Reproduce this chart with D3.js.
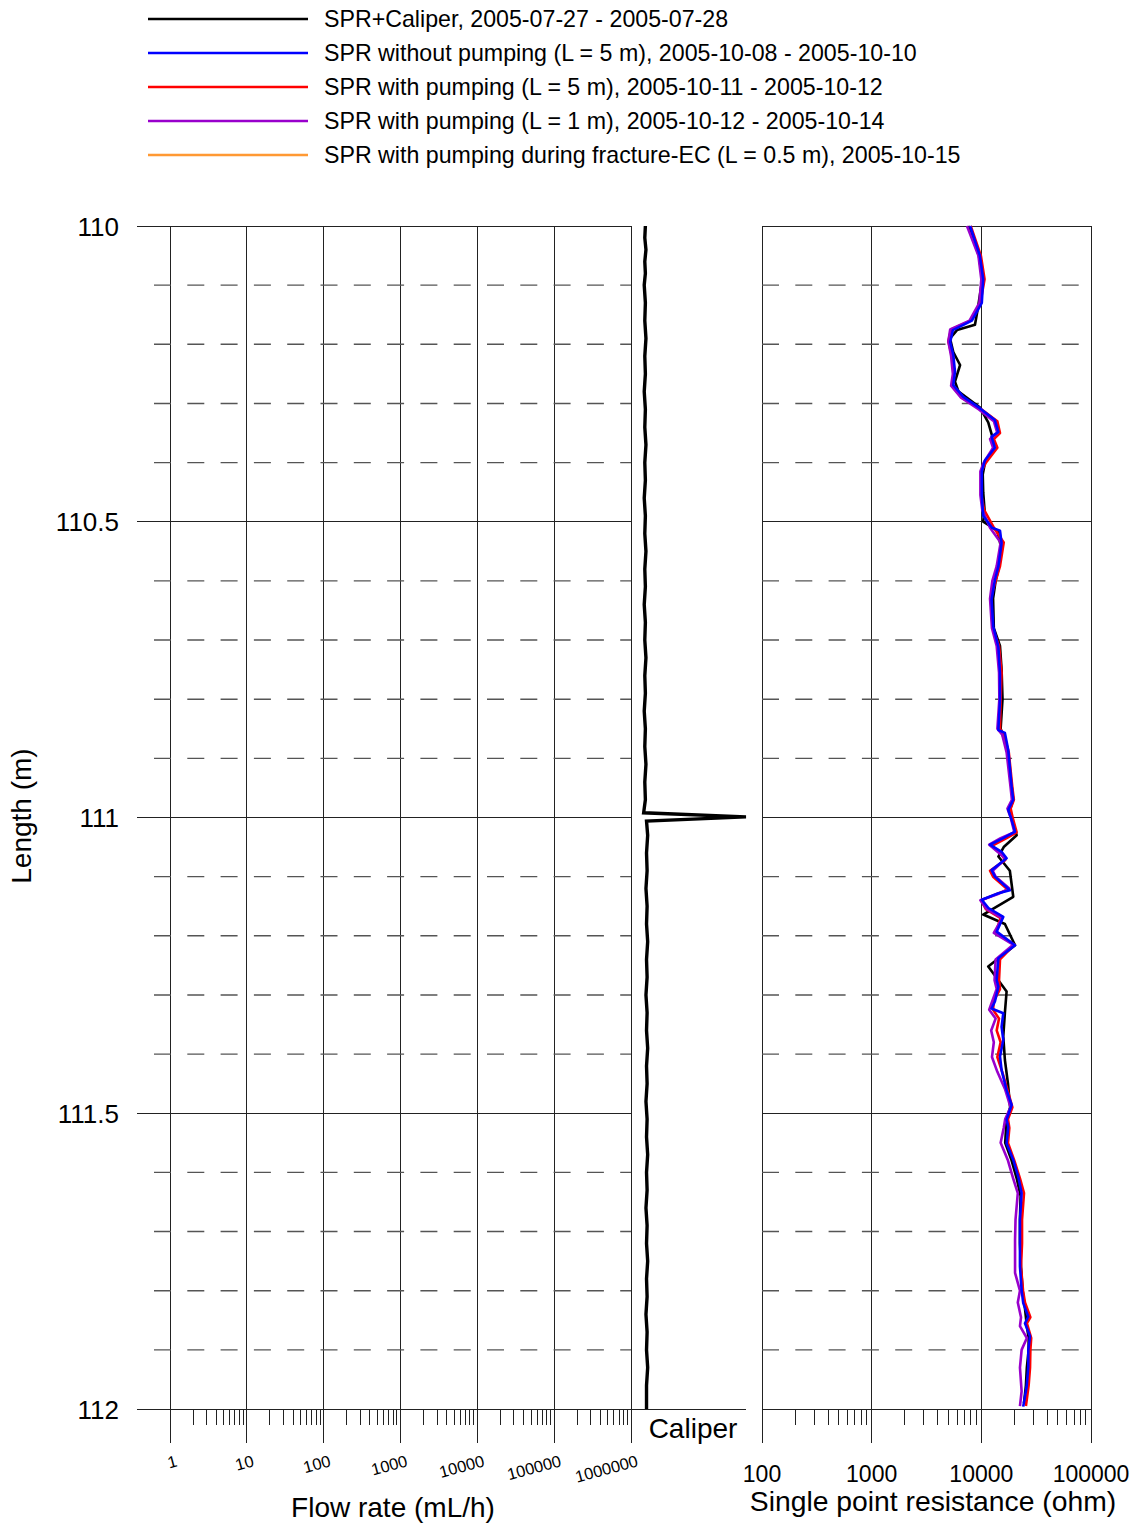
<!DOCTYPE html>
<html>
<head>
<meta charset="utf-8">
<script src="https://cdn.jsdelivr.net/npm/d3@7"></script>
<style>
  body { margin: 0; background: #fff; }
  text { font-family: Arial, "Liberation Sans", sans-serif; fill: #000; }
</style>
</head>
<body>
<svg id="chart" width="1137" height="1525"></svg>
<script>
// ---- Legend ----
const legendLabels = [
  "SPR+Caliper, 2005-07-27 - 2005-07-28",
  "SPR without pumping (L = 5 m), 2005-10-08 - 2005-10-10",
  "SPR with pumping (L = 5 m), 2005-10-11 - 2005-10-12",
  "SPR with pumping (L = 1 m), 2005-10-12 - 2005-10-14",
  "SPR with pumping during fracture-EC (L = 0.5 m), 2005-10-15"
];
const legendColors = ["#000000", "#0000ff", "#ff0000", "#9900cc", "#ff9933"];

// ---- Axes ----
const depthTicks = [110, 110.5, 111, 111.5, 112];
const depthMinor = [110.1, 110.2, 110.3, 110.4, 110.6, 110.7, 110.8, 110.9,
                    111.1, 111.2, 111.3, 111.4, 111.6, 111.7, 111.8, 111.9];
const flowTicks = [1, 10, 100, 1000, 10000, 100000, 1000000];
const flowTickLabels = ["1", "10", "100", "1000", "10000", "100000", "1000000"];
const sprTicks = [100, 1000, 10000, 100000];
const sprTickLabels = ["100", "1000", "10000", "100000"];

// ---- Caliper (mm) vs length (m) ----
const caliperDepth = [110.00, 110.02, 110.04, 110.06, 110.08, 110.10, 110.13, 110.16, 110.19, 110.22,
  110.25, 110.28, 110.31, 110.34, 110.37, 110.40, 110.43, 110.46, 110.49, 110.52,
  110.55, 110.58, 110.61, 110.64, 110.67, 110.70, 110.73, 110.76, 110.79, 110.82,
  110.85, 110.88, 110.91, 110.94, 110.97, 110.992, 110.999, 111.006, 111.03, 111.06,
  111.09, 111.12, 111.15, 111.18, 111.21, 111.24, 111.27, 111.30, 111.33, 111.36,
  111.39, 111.42, 111.45, 111.48, 111.51, 111.54, 111.57, 111.60, 111.63, 111.66,
  111.69, 111.72, 111.75, 111.78, 111.81, 111.84, 111.87, 111.90, 111.93, 111.96, 112.00];
const caliperMm = [76.25, 76.24, 76.26, 76.24, 76.25, 76.23, 76.25, 76.24, 76.26, 76.24,
  76.25, 76.23, 76.25, 76.24, 76.26, 76.24, 76.25, 76.23, 76.25, 76.24,
  76.26, 76.24, 76.25, 76.23, 76.25, 76.24, 76.26, 76.24, 76.25, 76.23,
  76.25, 76.24, 76.26, 76.24, 76.25, 76.22, 78.00, 76.27, 76.29, 76.27,
  76.28, 76.26, 76.28, 76.27, 76.29, 76.27, 76.28, 76.26, 76.28, 76.27,
  76.29, 76.27, 76.28, 76.26, 76.28, 76.27, 76.29, 76.27, 76.28, 76.26,
  76.28, 76.27, 76.29, 76.27, 76.28, 76.26, 76.28, 76.27, 76.29, 76.27, 76.27];

// ---- Single point resistance (ohm) vs length (m) ----
const sprCaliperRun = [[110.00,7600],[110.05,9500],[110.09,10200],[110.139,9300],[110.167,8750],[110.176,6000],
  [110.19,5180],[110.213,5550],[110.235,6400],[110.263,5750],[110.28,6200],[110.307,9730],[110.332,11560],
  [110.354,12500],[110.375,13000],[110.40,10800],[110.42,10300],[110.45,10400],[110.48,10700],[110.50,10400],
  [110.515,14000],[110.54,15000],[110.576,14500],[110.60,13500],[110.63,12800],[110.68,13000],[110.71,14800],
  [110.75,15300],[110.80,15600],[110.85,15000],[110.88,17000],[110.95,19000],[110.97,19500],[110.99,18000],
  [111.00,19000],[111.02,20300],[111.03,21000],[111.05,16000],[111.066,14300],[111.09,18200],[111.134,19550],
  [111.164,10400],[111.18,16400],[111.216,20300],[111.252,11560],[111.294,17000],[111.33,16400],[111.37,15850],
  [111.41,16400],[111.45,17500],[111.49,18300],[111.51,17000],[111.55,16500],[111.58,18900],[111.61,21000],
  [111.64,22800],[111.68,22500],[111.72,22500],[111.76,23000],[111.80,23800],[111.83,25000],[111.86,26000],
  [111.88,27000],[111.90,27000],[111.93,26000],[111.96,25500],[111.99,24500]];

const sprNoPump5m = [[110.00,7900],[110.05,9700],[110.09,10400],[110.13,10100],[110.16,8200],[110.176,5500],
  [110.196,5200],[110.218,5550],[110.246,5750],[110.269,5550],[110.289,6850],[110.308,9700],[110.328,13300],
  [110.348,14300],[110.356,12400],[110.375,13300],[110.396,10800],[110.415,10100],[110.455,10100],[110.49,10400],
  [110.51,12500],[110.515,14800],[110.536,15300],[110.576,14300],[110.598,13300],[110.632,12400],[110.677,12850],
  [110.711,14300],[110.756,14800],[110.801,14800],[110.852,14300],[110.857,16400],[110.886,17600],[110.948,18900],
  [110.970,19550],[110.987,17600],[111.004,18900],[111.024,20300],[111.035,15850],[111.046,12000],[111.058,15300],
  [111.069,17000],[111.089,12400],[111.100,13300],[111.123,18200],[111.128,14300],[111.139,10100],[111.153,11600],
  [111.168,15850],[111.193,13800],[111.216,20300],[111.238,14300],[111.275,13800],[111.286,14300],[111.311,13300],
  [111.323,12400],[111.331,15850],[111.354,15300],[111.376,15850],[111.404,14800],[111.427,15300],[111.461,17000],
  [111.486,18900],[111.511,17000],[111.523,17600],[111.551,17000],[111.579,19550],[111.607,21700],[111.635,23300],
  [111.680,22500],[111.720,22500],[111.759,22500],[111.799,23300],[111.821,24100],[111.844,26800],[111.855,25000],
  [111.877,27800],[111.900,26800],[111.929,26800],[111.962,25900],[111.996,24100]];

const sprPump5m = [[110.00,8000],[110.05,9900],[110.09,10700],[110.13,9800],[110.16,8000],[110.175,5300],
  [110.195,5000],[110.22,5400],[110.25,5600],[110.27,5400],[110.29,6600],[110.31,10000],[110.33,14000],
  [110.35,14800],[110.36,13000],[110.375,14000],[110.40,11000],[110.415,10000],[110.455,10000],[110.48,10600],
  [110.51,13000],[110.535,16000],[110.575,14800],[110.60,13500],[110.63,12200],[110.68,12700],[110.71,14500],
  [110.755,15300],[110.80,15000],[110.85,14800],[110.86,16000],[110.89,17800],[110.95,19200],[110.97,19800],
  [110.985,18500],[111.00,19300],[111.025,21000],[111.035,17000],[111.048,12500],[111.06,15000],[111.072,16500],
  [111.09,12000],[111.10,12800],[111.122,17500],[111.13,13500],[111.14,10000],[111.155,11000],[111.17,15000],
  [111.195,13500],[111.215,20000],[111.24,14800],[111.275,14500],[111.29,14800],[111.31,13000],[111.325,12800],
  [111.34,14500],[111.36,13800],[111.38,15000],[111.405,14000],[111.43,15500],[111.46,17300],[111.49,19200],
  [111.51,17500],[111.525,18000],[111.55,17500],[111.58,20000],[111.61,22500],[111.635,24500],[111.68,23500],
  [111.72,23500],[111.76,23000],[111.80,24000],[111.82,25000],[111.845,28000],[111.855,26000],[111.88,28500],
  [111.90,28000],[111.93,27800],[111.96,27000],[111.995,25500]];

const sprPump1m = [[110.00,7400],[110.05,9400],[110.09,10000],[110.13,9600],[110.16,7800],[110.175,5200],
  [110.195,5000],[110.22,5300],[110.25,5500],[110.27,5300],[110.29,6500],[110.31,9500],[110.33,13000],
  [110.35,14000],[110.36,12000],[110.375,12800],[110.40,10500],[110.415,9800],[110.455,9800],[110.48,10200],
  [110.51,12000],[110.535,15000],[110.575,13800],[110.60,12600],[110.63,12000],[110.68,12500],[110.71,13800],
  [110.755,14500],[110.80,14600],[110.85,14000],[110.86,15500],[110.89,17000],[110.95,18500],[110.97,19000],
  [110.985,17300],[111.00,18500],[111.025,20000],[111.035,15000],[111.046,11800],[111.06,14500],[111.07,16600],
  [111.09,12700],[111.10,13500],[111.12,18000],[111.13,14000],[111.14,9800],[111.155,11200],[111.17,15500],
  [111.195,13000],[111.215,19500],[111.24,13500],[111.275,13200],[111.29,13800],[111.31,12600],[111.325,11800],
  [111.34,13500],[111.36,12300],[111.38,13000],[111.405,12500],[111.43,14000],[111.46,16500],[111.49,18500],
  [111.51,16500],[111.525,16000],[111.55,15000],[111.58,17500],[111.61,19500],[111.635,21500],[111.68,20500],
  [111.714,20300],[111.77,20300],[111.80,22500],[111.82,21500],[111.845,23000],[111.86,22500],[111.88,26000],
  [111.90,23300],[111.93,22500],[111.97,23300],[111.995,22500]];

// ---- Drawing ----
const svg = d3.select("#chart");

const y = d3.scaleLinear().domain([110, 112]).range([226, 1409]);
const xFlow = d3.scaleLog().domain([1, 1e6]).range([170, 631]);
const xCal = d3.scaleLinear().domain([76, 78]).range([631, 746]);
const xSpr = d3.scaleLog().domain([100, 100000]).range([762, 1091]);

const gridColor = "#222";
const dashColor = "#555";
const dash = "17,16.3";

// Legend
const legend = svg.append("g");
legendLabels.forEach((label, i) => {
  const ly = 19 + i * 34;
  legend.append("line").attr("x1", 148).attr("x2", 308).attr("y1", ly).attr("y2", ly)
    .attr("stroke", legendColors[i]).attr("stroke-width", 2.5);
  legend.append("text").attr("x", 324).attr("y", ly + 8)
    .attr("font-size", 23.2).text(label);
});

// Solid grid lines (crisp), dashed minor lines (soft)
const grid = svg.append("g").attr("shape-rendering", "crispEdges");
const dashes = svg.append("g");

// Left panel: flow rate grid
depthTicks.forEach(d => {
  grid.append("line").attr("x1", 137).attr("x2", 631).attr("y1", y(d)).attr("y2", y(d))
    .attr("stroke", gridColor).attr("stroke-width", 1);
});
depthMinor.forEach(d => {
  dashes.append("line").attr("x1", 154).attr("x2", 631).attr("y1", y(d)).attr("y2", y(d))
    .attr("stroke", dashColor).attr("stroke-width", 1.4).attr("stroke-dasharray", dash);
});
flowTicks.forEach(v => {
  grid.append("line").attr("x1", xFlow(v)).attr("x2", xFlow(v)).attr("y1", y(110)).attr("y2", 1443)
    .attr("stroke", gridColor).attr("stroke-width", 1);
});
// Flow minor ticks (2..9 of each decade)
flowTicks.slice(0, -1).forEach(v => {
  for (let k = 2; k <= 9; k++) {
    const xv = xFlow(v * k);
    grid.append("line").attr("x1", xv).attr("x2", xv).attr("y1", 1409).attr("y2", 1425)
      .attr("stroke", gridColor).attr("stroke-width", 1);
  }
});
// Caliper panel base line
grid.append("line").attr("x1", 631).attr("x2", 746).attr("y1", 1409).attr("y2", 1409)
  .attr("stroke", gridColor).attr("stroke-width", 1);

// Depth tick labels
depthTicks.forEach(d => {
  svg.append("text").attr("x", 119).attr("y", y(d) + 9.5)
    .attr("text-anchor", "end").attr("font-size", 26).text(String(d));
});

// Flow tick labels (rotated)
flowTicks.forEach((v, i) => {
  svg.append("text")
    .attr("transform", `translate(${xFlow(v) + 8},1466) rotate(-15)`)
    .attr("text-anchor", "end").attr("font-size", 16.5).text(flowTickLabels[i]);
});

svg.append("text").attr("x", 393).attr("y", 1517).attr("text-anchor", "middle")
  .attr("font-size", 28).text("Flow rate (mL/h)");
svg.append("text").attr("transform", "translate(31,816) rotate(-90)")
  .attr("text-anchor", "middle").attr("font-size", 28).text("Length (m)");
svg.append("text").attr("x", 693).attr("y", 1438).attr("text-anchor", "middle")
  .attr("font-size", 28).text("Caliper");

// Caliper curve
const caliperLine = d3.line()
  .x((d, i) => xCal(caliperMm[i]))
  .y(d => y(d));
svg.append("path").datum(caliperDepth).attr("d", caliperLine)
  .attr("fill", "none").attr("stroke", "#000").attr("stroke-width", 3.4)
  .attr("stroke-linejoin", "miter").attr("stroke-miterlimit", 20);

// Right panel: SPR grid
depthTicks.forEach(d => {
  grid.append("line").attr("x1", 762).attr("x2", 1091).attr("y1", y(d)).attr("y2", y(d))
    .attr("stroke", gridColor).attr("stroke-width", 1);
});
depthMinor.forEach(d => {
  dashes.append("line").attr("x1", 762).attr("x2", 1091).attr("y1", y(d)).attr("y2", y(d))
    .attr("stroke", dashColor).attr("stroke-width", 1.4).attr("stroke-dasharray", dash);
});
sprTicks.forEach(v => {
  grid.append("line").attr("x1", xSpr(v)).attr("x2", xSpr(v)).attr("y1", y(110)).attr("y2", 1443)
    .attr("stroke", gridColor).attr("stroke-width", 1);
});
sprTicks.slice(0, -1).forEach(v => {
  for (let k = 2; k <= 9; k++) {
    const xv = xSpr(v * k);
    grid.append("line").attr("x1", xv).attr("x2", xv).attr("y1", 1409).attr("y2", 1425)
      .attr("stroke", gridColor).attr("stroke-width", 1);
  }
});
sprTicks.forEach((v, i) => {
  svg.append("text").attr("x", xSpr(v)).attr("y", 1482).attr("text-anchor", "middle")
    .attr("font-size", 23).text(sprTickLabels[i]);
});
svg.append("text").attr("x", 933).attr("y", 1511).attr("text-anchor", "middle")
  .attr("font-size", 28.3).text("Single point resistance (ohm)");

// SPR curves
const sprLine = d3.line().x(d => xSpr(d[1])).y(d => y(d[0]));
const sprSeries = [
  { data: sprCaliperRun, color: legendColors[0] },
  { data: sprPump5m, color: legendColors[2] },
  { data: sprPump1m, color: legendColors[3] },
  { data: sprNoPump5m, color: legendColors[1] }
];
sprSeries.forEach(s => {
  svg.append("path").datum(s.data).attr("d", sprLine)
    .attr("fill", "none").attr("stroke", s.color).attr("stroke-width", 2.6)
    .attr("stroke-linejoin", "round");
});
</script>
</body>
</html>
